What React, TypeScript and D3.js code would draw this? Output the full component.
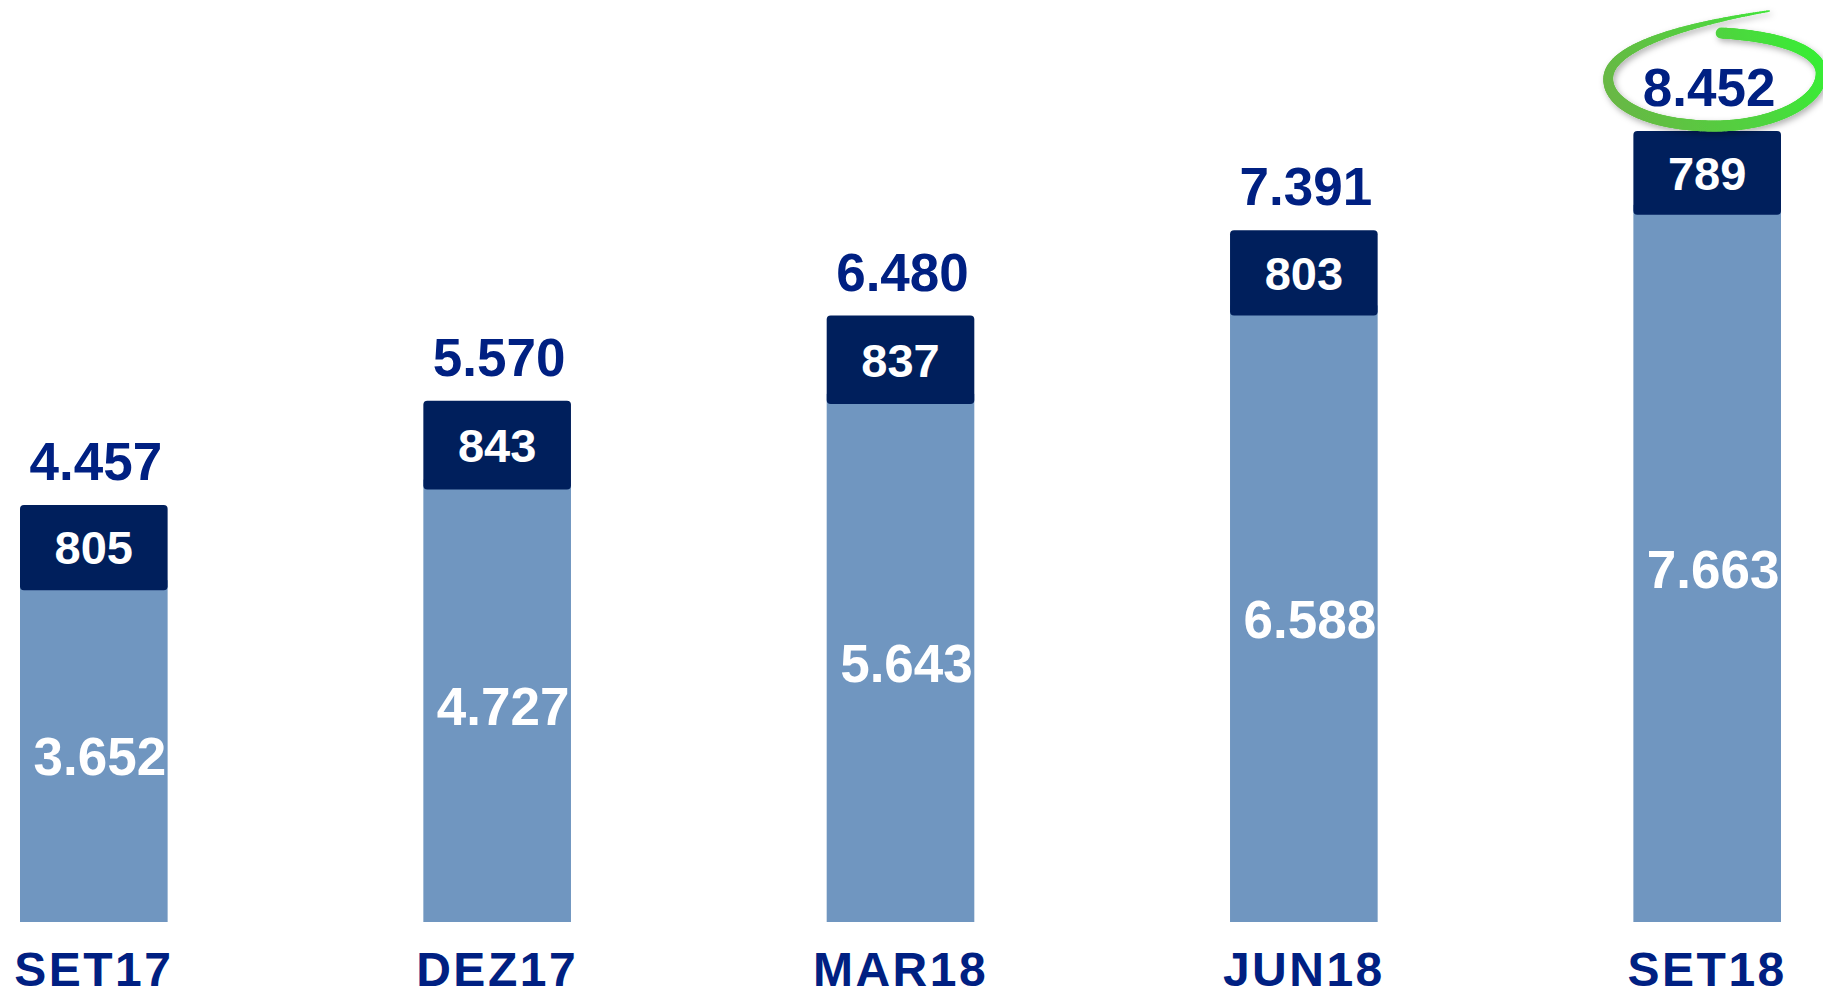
import { useEffect, useRef } from 'react';
import * as d3 from 'd3';

// quarter labels and the two stacked parts of each bar
const categories = ['SET17', 'DEZ17', 'MAR18', 'JUN18', 'SET18'];
const baseValues = [3652, 4727, 5643, 6588, 7663];
const topValues = [805, 843, 837, 803, 789];
const totalValues = [4457, 5570, 6480, 7391, 8452];

const W = 1823;
const H = 997;

const lightBlue = '#7096c0';
const darkBlue = '#001f5c';
const textBlue = '#002082';

// pt-BR style thousands separator
const fmt = (v: number) => d3.format(',')(v).replace(/,/g, '.');

export default function App() {
  const svgRef = useRef<SVGSVGElement | null>(null);

  useEffect(() => {
    const svg = d3.select(svgRef.current);
    svg.selectAll('*').remove();

    const x = d3
      .scaleBand<string>()
      .domain(categories)
      .range([20, 1781])
      .paddingInner(0.634)
      .paddingOuter(0);

    const y = d3
      .scaleLinear()
      .domain([0, d3.max(totalValues) as number])
      .range([922, 131]);

    const boxPad = 10; // dark label box sits a little lower than the stack
    const font = "'Liberation Sans', Arial, sans-serif";

    const defs = svg.append('defs');
    defs
      .append('filter')
      .attr('id', 'shadow')
      .attr('x', '-20%')
      .attr('y', '-20%')
      .attr('width', '140%')
      .attr('height', '140%')
      .append('feDropShadow')
      .attr('dx', 2)
      .attr('dy', 3)
      .attr('stdDeviation', 3)
      .attr('flood-color', '#000')
      .attr('flood-opacity', 0.3);

    const groups = svg
      .selectAll('g.bar')
      .data(categories)
      .enter()
      .append('g')
      .classed('bar', true);

    // light base bars
    groups
      .append('rect')
      .attr('x', (d) => x(d) as number)
      .attr('width', x.bandwidth())
      .attr('y', (d, i) => y(baseValues[i]))
      .attr('height', (d, i) => y(0) - y(baseValues[i]))
      .attr('fill', lightBlue);

    // dark top boxes
    groups
      .append('rect')
      .attr('x', (d) => x(d) as number)
      .attr('width', x.bandwidth())
      .attr('y', (d, i) => y(totalValues[i]))
      .attr('height', (d, i) => y(baseValues[i]) - y(totalValues[i]) + boxPad)
      .attr('rx', 4)
      .attr('fill', darkBlue);

    const cx = (d: string) => (x(d) as number) + x.bandwidth() / 2;

    // base value labels, centred in the light part
    groups
      .append('text')
      .attr('x', (d) => cx(d) + 6)
      .attr('y', (d, i) => (y(baseValues[i]) + boxPad + y(0)) / 2)
      .attr('dy', '0.36em')
      .attr('text-anchor', 'middle')
      .attr('fill', '#fff')
      .style('font', `bold 53px ${font}`)
      .text((d, i) => fmt(baseValues[i]));

    // top value labels inside dark box
    groups
      .append('text')
      .attr('x', (d) => cx(d))
      .attr('y', (d, i) => (y(totalValues[i]) + y(baseValues[i]) + boxPad) / 2)
      .attr('dy', '0.36em')
      .attr('text-anchor', 'middle')
      .attr('fill', '#fff')
      .style('font', `bold 47px ${font}`)
      .text((d, i) => fmt(topValues[i]));

    // totals above
    groups
      .append('text')
      .attr('x', (d) => cx(d) + 2)
      .attr('y', (d, i) => y(totalValues[i]) - 25)
      .attr('text-anchor', 'middle')
      .attr('fill', textBlue)
      .style('font', `bold 53px ${font}`)
      .text((d, i) => fmt(totalValues[i]));

    // category labels
    groups
      .append('text')
      .attr('x', (d) => cx(d))
      .attr('y', 986)
      .attr('text-anchor', 'middle')
      .attr('fill', textBlue)
      .style('font', `bold 48px ${font}`)
      .style('letter-spacing', '2.5px')
      .text((d) => d);

    // hand drawn green ring around the last total
    const last = categories[categories.length - 1];
    const ox = cx(last) + 2;
    const oy = y(totalValues[totalValues.length - 1]) - 25 - 19;
    const p = (a: number, b: number) => `${ox + a},${oy + b}`;
    const ringD =
      `M${p(12, -54)} C${p(82, -50)} ${p(114, -32)} ${p(112, -12)}` +
      ` C${p(110, 16)} ${p(62, 39)} ${p(5, 39)}` +
      ` C${p(-58, 39)} ${p(-102, 18)} ${p(-101, -9)}` +
      ` C${p(-100, -39)} ${p(-28, -62)} ${p(60, -76)}`;

    const grad = defs
      .append('linearGradient')
      .attr('id', 'ring-grad')
      .attr('gradientUnits', 'userSpaceOnUse')
      .attr('x1', ox - 100)
      .attr('y1', oy + 36)
      .attr('x2', ox + 112)
      .attr('y2', oy - 60);
    grad.append('stop').attr('offset', '0%').attr('stop-color', '#6ab545');
    grad.append('stop').attr('offset', '60%').attr('stop-color', '#4fd43f');
    grad.append('stop').attr('offset', '100%').attr('stop-color', '#33f233');

    const ring = svg.append('g').attr('filter', 'url(#shadow)');
    const guide = ring
      .append('path')
      .attr('d', ringD)
      .attr('fill', 'none')
      .attr('stroke', 'none');
    const node = guide.node() as SVGPathElement;
    const len = node.getTotalLength();
    const n = 240;
    for (let i = 0; i < n; i++) {
      const t0 = i / n;
      const t1 = (i + 1) / n;
      const a = node.getPointAtLength(t0 * len);
      const b = node.getPointAtLength(t1 * len);
      const w = t0 < 0.62 ? 11 : 11 - ((t0 - 0.62) / 0.38) * 9.5;
      ring
        .append('line')
        .attr('x1', a.x)
        .attr('y1', a.y)
        .attr('x2', b.x)
        .attr('y2', b.y)
        .attr('stroke', 'url(#ring-grad)')
        .attr('stroke-width', w)
        .attr('stroke-linecap', 'round');
    }
  }, []);

  return (
    <div style={{ position: 'absolute', left: 0, top: 0 }}>
      <svg
        ref={svgRef}
        width={W}
        height={H}
        style={{ display: 'block', background: '#fff' }}
      ></svg>
    </div>
  );
}
